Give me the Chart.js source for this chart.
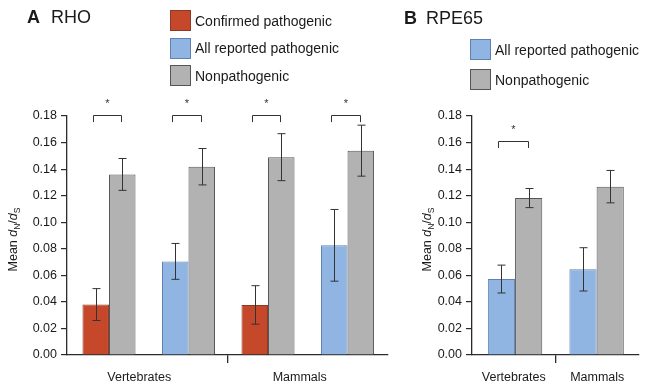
<!DOCTYPE html>
<html><head><meta charset="utf-8">
<script src="https://cdn.jsdelivr.net/npm/chart.js@4/dist/chart.umd.min.js"></script>
<style>
html,body{margin:0;padding:0;background:#fff;}
#wrap{position:relative;width:645px;height:390px;overflow:hidden;font-family:"Liberation Sans",Arial,sans-serif;color:#1a1a1a;}
.panel{position:absolute;top:0;height:390px;}
#pA{left:0;width:400px;}
#pB{left:400px;width:245px;}
canvas{display:block;}
.ptitle{position:absolute;font-size:18px;line-height:18px;white-space:nowrap;}
.legend{position:absolute;font-size:14px;}
.legend .item{display:flex;align-items:center;height:21px;white-space:nowrap;}
.legend .sw{width:19px;height:19px;border:1px solid;margin-right:4px;box-sizing:content-box;}
</style></head>
<body>
<div id="wrap">
  <div class="panel" id="pA"><canvas id="cA" width="400" height="390"></canvas></div>
  <div class="panel" id="pB"><canvas id="cB" width="245" height="390"></canvas></div>
  <div class="ptitle" style="left:27px;top:8px;"><b>A</b><span style="margin-left:11px;">RHO</span></div>
  <div class="ptitle" style="left:404px;top:9px;"><b>B</b><span style="margin-left:9px;">RPE65</span></div>
  <div class="legend" id="legA" style="left:170px;top:10px;"></div>
  <div class="legend" id="legB" style="left:470px;top:39px;"></div>
</div>
<script>
// ---------- data ----------
const groupsA = ['Vertebrates', 'Mammals'];
const confirmedA     = [0.038, null, 0.0377, null];
const confirmedErrA  = [0.012, null, 0.0145, null];
const allReportedA    = [null, 0.0705, null, 0.0826];
const allReportedErrA = [null, 0.0135, null, 0.027];
const nonpathA    = [0.136, 0.1418, 0.149, 0.1539];
const nonpathErrA = [0.012, 0.0137, 0.0177, 0.0192];
const sigA = [true, true, true, true];

const groupsB = ['Vertebrates', 'Mammals'];
const allReportedB    = [0.0572, 0.0645];
const allReportedErrB = [0.0105, 0.0163];
const nonpathB    = [0.1182, 0.1268];
const nonpathErrB = [0.0072, 0.0122];
const sigB = [true, false];

const yTicksMax = 0.18, yStep = 0.02;

// ---------- styles ----------
const FONT = "'Liberation Sans', Arial, sans-serif";
Chart.defaults.font.family = FONT;
const AX = '#2b2b2b';
const RED = '#c5482b', RED_B = '#8c3a28';
const BLUE = '#91b5e2', BLUE_B = '#5f80b2';
const GRAY = '#b2b2b2', GRAY_B = '#555555';

const errorBarPlugin = {
  id: 'errorBars',
  afterDatasetsDraw(chart, args, opts) {
    const ctx = chart.ctx, yScale = chart.scales.y;
    ctx.save();
    ctx.strokeStyle = opts.color; ctx.lineWidth = opts.lineWidth;
    chart.data.datasets.forEach((ds, di) => {
      const meta = chart.getDatasetMeta(di);
      meta.data.forEach((bar, i) => {
        const v = ds.data[i], e = ds.errors[i];
        if (v == null || e == null) return;
        const yT = yScale.getPixelForValue(v + e), yB = yScale.getPixelForValue(v - e);
        const x = Math.round(bar.x) + 0.5;
        ctx.beginPath();
        ctx.moveTo(x, yT); ctx.lineTo(x, yB);
        ctx.moveTo(x - opts.cap, yT); ctx.lineTo(x + opts.cap, yT);
        ctx.moveTo(x - opts.cap, yB); ctx.lineTo(x + opts.cap, yB);
        ctx.stroke();
      });
    });
    ctx.restore();
  }
};

const sigPlugin = {
  id: 'sig',
  afterDatasetsDraw(chart, args, opts) {
    const ctx = chart.ctx, y = chart.scales.y;
    ctx.save();
    ctx.strokeStyle = opts.color; ctx.fillStyle = opts.color; ctx.lineWidth = opts.lineWidth;
    opts.flags.forEach((flag, i) => {
      if (!flag) return;
      const bars = [];
      chart.data.datasets.forEach((ds, di) => {
        if (ds.data[i] != null) bars.push(chart.getDatasetMeta(di).data[i]);
      });
      bars.sort((a, b) => a.x - b.x);
      const x1 = Math.round(bars[0].x - 3) + 0.5, x2 = Math.round(bars[bars.length - 1].x - 1) + 0.5;
      const yTop = Math.round(y.getPixelForValue(opts.level)) + 0.5;
      const yLeg = y.getPixelForValue(opts.level - opts.drop);
      ctx.beginPath();
      ctx.moveTo(x1, yLeg); ctx.lineTo(x1, yTop); ctx.lineTo(x2, yTop); ctx.lineTo(x2, yLeg);
      ctx.stroke();
      ctx.font = '11px ' + FONT;
      ctx.textAlign = 'center'; ctx.textBaseline = 'alphabetic';
      ctx.fillText('*', (x1 + x2) / 2, y.getPixelForValue(opts.star) + 6);
    });
    ctx.restore();
  }
};

const yTitlePlugin = {
  id: 'yTitle',
  afterDraw(chart, args, o) {
    const ctx = chart.ctx;
    const n = `${o.size}px ${FONT}`, it = `italic ${o.size}px ${FONT}`, sb = `${o.sub}px ${FONT}`;
    const parts = [
      {t: 'Mean ', f: n, dy: 0}, {t: 'd', f: it, dy: 0}, {t: 'N', f: sb, dy: o.subShift},
      {t: '/', f: n, dy: 0}, {t: 'd', f: it, dy: 0}, {t: 'S', f: sb, dy: o.subShift}
    ];
    ctx.save();
    let total = 0;
    parts.forEach(p => { ctx.font = p.f; p.w = ctx.measureText(p.t).width; total += p.w; });
    const cy = (chart.chartArea.top + chart.chartArea.bottom) / 2 + o.offsetY;
    ctx.translate(o.x, cy);
    ctx.rotate(-Math.PI / 2);
    ctx.fillStyle = o.color; ctx.textBaseline = 'middle'; ctx.textAlign = 'left';
    let x = -total / 2;
    parts.forEach(p => { ctx.font = p.f; ctx.fillText(p.t, x, p.dy); x += p.w; });
    ctx.restore();
  }
};

function makeOptions(groups, xmin, xmax, padLeft, padRight, labelOffset, sigFlags, sigLevel, sigStar, titleX) {
  return {
    responsive: false,
    animation: false,
    events: [],
    datasets: { bar: { skipNull: true, categoryPercentage: 0.667, barPercentage: 1, borderWidth: 1 } },
    layout: { padding: { left: padLeft, right: padRight, top: 116, bottom: 0 } },
    plugins: {
      legend: { display: false },
      tooltip: { enabled: false },
      errorBars: { color: '#333', lineWidth: 1, cap: 4 },
      sig: { flags: sigFlags, level: sigLevel, drop: 0.0053, star: sigStar, color: '#333', lineWidth: 1 },
      yTitle: { x: titleX, offsetY: 4, size: 12.5, sub: 8.5, subShift: 3.5, color: '#1a1a1a' }
    },
    scales: {
      x: {
        type: 'linear', display: false, offset: false, min: xmin, max: xmax,
        ticks: { stepSize: 1, includeBounds: false }, grid: { display: false }
      },
      x2: {
        type: 'category', position: 'bottom', labels: groups, offset: true,
        grid: {
          offset: true, drawOnChartArea: false, tickLength: 8, lineWidth: 1.3,
          color: c => (c.index === 1 ? AX : 'rgba(0,0,0,0)')
        },
        border: { color: AX, width: 1.3 },
        ticks: { font: { size: 12.5 }, color: '#1a1a1a', padding: 7, labelOffset: labelOffset, maxRotation: 0, autoSkip: false },
        afterFit: s => { s.height = 35; }
      },
      y: {
        min: 0, max: yTicksMax,
        ticks: { stepSize: yStep, font: { size: 12.5 }, color: '#1a1a1a', padding: 4, callback: v => Number(v).toFixed(2) },
        grid: { drawOnChartArea: false, tickLength: 6, color: AX, lineWidth: 1.2 },
        border: { color: AX, width: 1.3 },
        afterFit: s => { s.width = 40; }
      }
    }
  };
}

const chartA = new Chart(document.getElementById('cA'), {
  type: 'bar',
  data: {
    labels: nonpathA.map((_, i) => i),
    datasets: [
      { label: 'Confirmed pathogenic', data: confirmedA, errors: confirmedErrA, backgroundColor: RED, borderColor: RED_B, xAxisID: 'x' },
      { label: 'All reported pathogenic', data: allReportedA, errors: allReportedErrA, backgroundColor: BLUE, borderColor: BLUE_B, xAxisID: 'x' },
      { label: 'Nonpathogenic', data: nonpathA, errors: nonpathErrA, backgroundColor: GRAY, borderColor: GRAY_B, xAxisID: 'x' }
    ]
  },
  options: makeOptions(groupsA, -0.528, 3.509, 27, 12, -8, sigA, 0.1807, 0.1913, 14),
  plugins: [errorBarPlugin, sigPlugin, yTitlePlugin]
});

const chartB = new Chart(document.getElementById('cB'), {
  type: 'bar',
  data: {
    labels: nonpathB.map((_, i) => i),
    datasets: [
      { label: 'All reported pathogenic', data: allReportedB, errors: allReportedErrB, backgroundColor: BLUE, borderColor: BLUE_B, xAxisID: 'x' },
      { label: 'Nonpathogenic', data: nonpathB, errors: nonpathErrB, backgroundColor: GRAY, borderColor: GRAY_B, xAxisID: 'x' }
    ]
  },
  options: makeOptions(groupsB, -0.528, 1.52, 32, 6, 0, sigB, 0.1612, 0.1717, 28),
  plugins: [errorBarPlugin, sigPlugin, yTitlePlugin]
});

function buildLegend(chart, el, gap) {
  chart.data.datasets.forEach((ds, i) => {
    const item = document.createElement('div');
    item.className = 'item';
    if (i > 0) item.style.marginTop = gap + 'px';
    const sw = document.createElement('span');
    sw.className = 'sw';
    sw.style.background = ds.backgroundColor;
    sw.style.borderColor = ds.borderColor;
    const tx = document.createElement('span');
    tx.textContent = ds.label;
    item.appendChild(sw); item.appendChild(tx);
    el.appendChild(item);
  });
}
buildLegend(chartA, document.getElementById('legA'), 6.5);
buildLegend(chartB, document.getElementById('legB'), 9);
</script>
</body></html>
